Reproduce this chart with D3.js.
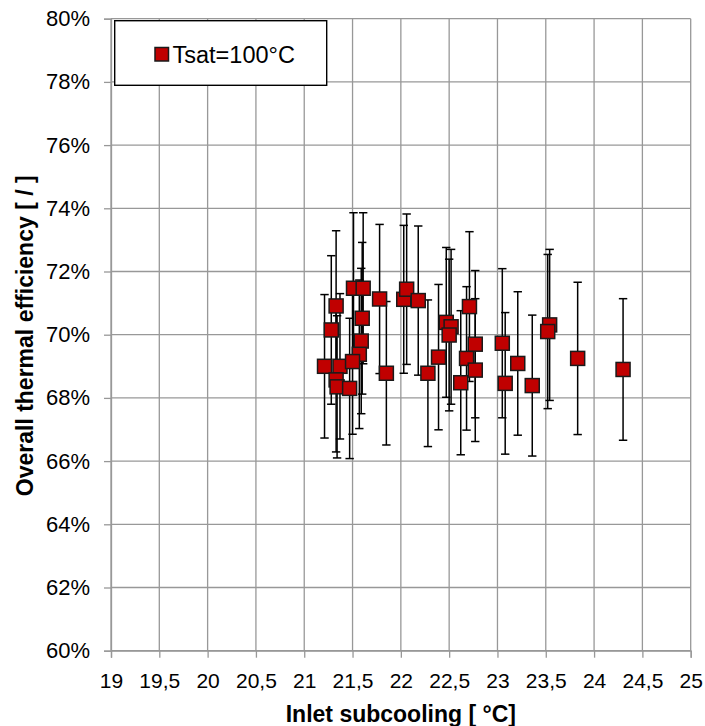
<!DOCTYPE html>
<html>
<head>
<meta charset="utf-8">
<script src="https://cdn.jsdelivr.net/npm/d3@7/dist/d3.min.js"></script>
<style>
  html, body { margin: 0; padding: 0; background: #fff; }
  svg { display: block; font-family: "Liberation Sans", Arial, sans-serif; }
</style>
</head>
<body>
<svg id="chart" width="705" height="726"></svg>
<script>
// Inlet subcooling [°C] for each test point
const subcooling = [
  21.21, 21.28, 21.33, 21.37, 21.33, 21.34, 21.47, 21.51, 21.61, 21.60,
  21.59, 21.57, 21.50, 21.78, 21.85, 22.03, 22.06, 22.18, 22.28, 22.39,
  22.47, 22.52, 22.50, 22.71, 22.62, 22.68, 22.77, 22.77, 23.05, 23.08,
  23.21, 23.36, 23.54, 23.52, 23.83, 24.30
];
// Overall thermal efficiency [%]
const efficiency = [
  69.00, 70.15, 70.91, 69.00, 68.57, 68.35, 68.30, 71.47, 71.47, 70.52,
  69.80, 69.38, 69.15, 71.13, 68.78, 71.12, 71.44, 71.08, 68.78, 69.29,
  70.39, 70.25, 69.99, 70.89, 68.48, 69.25, 69.70, 68.88, 69.73, 68.46,
  69.09, 68.39, 70.31, 70.10, 69.25, 68.90
];
// Measurement uncertainty (± percentage points)
const uncertainty = [
  2.27, 2.35, 2.38, 2.30, 2.28, 2.25, 2.22, 2.39, 2.39, 2.40,
  2.30, 2.35, 2.30, 2.36, 2.27, 2.34, 2.38, 2.36, 2.32, 2.30,
  2.37, 2.45, 2.40, 2.37, 2.28, 2.27, 2.33, 2.26, 2.36, 2.24,
  2.27, 2.23, 2.39, 2.44, 2.41, 2.24
];
const xTicks = [19, 19.5, 20, 20.5, 21, 21.5, 22, 22.5, 23, 23.5, 24, 24.5, 25];
const yTicks = [60, 62, 64, 66, 68, 70, 72, 74, 76, 78, 80];
const seriesName = "Tsat=100°C";
const xTitle = "Inlet subcooling [ °C]";
const yTitle = "Overall thermal efficiency [ / ]";

const points = subcooling.map((x, i) => ({ x, y: efficiency[i], e: uncertainty[i] }));

const svg = d3.select("#chart");
const plotLeft = 111, plotRight = 690.7, plotTop = 18.7, plotBottom = 650.7;

const x = d3.scaleLinear().domain([19, 25]).range([plotLeft, plotRight]);
const y = d3.scaleLinear().domain([60, 80]).range([plotBottom, plotTop]);

const gridColor = "#989898";

// Grid
const grid = svg.append("g");
grid.selectAll("line.v").data(xTicks).join("line")
  .attr("class", "v")
  .attr("x1", d => x(d)).attr("x2", d => x(d))
  .attr("y1", plotTop).attr("y2", plotBottom)
  .attr("stroke", gridColor).attr("stroke-width", 1.3);
grid.selectAll("line.h").data(yTicks).join("line")
  .attr("class", "h")
  .attr("x1", plotLeft).attr("x2", plotRight)
  .attr("y1", d => y(d)).attr("y2", d => y(d))
  .attr("stroke", gridColor).attr("stroke-width", 1.3);

// Axes
const xAxis = svg.append("g")
  .attr("transform", `translate(0,${plotBottom})`)
  .call(d3.axisBottom(x).tickValues(xTicks).tickSize(7).tickPadding(15)
    .tickFormat(d => String(d).replace(".", ",")));
const yAxis = svg.append("g")
  .attr("transform", `translate(${plotLeft},0)`)
  .call(d3.axisLeft(y).tickValues(yTicks).tickSize(7).tickPadding(14)
    .tickFormat(d => d + "%"));

[xAxis, yAxis].forEach(g => {
  g.select(".domain").attr("stroke", gridColor).attr("stroke-width", 1.3);
  g.selectAll(".tick line").attr("stroke", gridColor).attr("stroke-width", 1.3);
  g.selectAll(".tick text")
    .attr("fill", "#000")
    .style("font-family", '"Liberation Sans", Arial, sans-serif');
});
xAxis.selectAll(".tick text").style("font-size", "21px");
yAxis.selectAll(".tick text").style("font-size", "22px");

// Axis titles
svg.append("text")
  .attr("x", (plotLeft + plotRight) / 2)
  .attr("y", 721.5)
  .attr("text-anchor", "middle")
  .style("font-size", "23px").style("font-weight", "bold")
  .text(xTitle);
svg.append("text")
  .attr("transform", `translate(33,${335.8}) rotate(-90)`)
  .attr("text-anchor", "middle")
  .style("font-size", "23px").style("font-weight", "bold")
  .text(yTitle);

// Error bars
const capHalf = 4.2;
const eb = svg.append("g").attr("stroke", "#000").attr("stroke-width", 1.5);
eb.selectAll("g").data(points).join("g").each(function (d) {
  const g = d3.select(this);
  const cx = x(d.x), y1 = y(d.y + d.e), y2 = y(d.y - d.e);
  g.append("line").attr("x1", cx).attr("x2", cx).attr("y1", y1).attr("y2", y2);
  g.append("line").attr("x1", cx - capHalf).attr("x2", cx + capHalf).attr("y1", y1).attr("y2", y1);
  g.append("line").attr("x1", cx - capHalf).attr("x2", cx + capHalf).attr("y1", y2).attr("y2", y2);
});

// Markers
const ms = 14;
svg.append("g").selectAll("rect").data(points).join("rect")
  .attr("x", d => x(d.x) - ms / 2)
  .attr("y", d => y(d.y) - ms / 2)
  .attr("width", ms).attr("height", ms)
  .attr("fill", "#C00000")
  .attr("stroke", "#1a1a1a").attr("stroke-width", 1.5);

// Legend
const legend = svg.append("g");
legend.append("rect")
  .attr("x", 114.7).attr("y", 20.7)
  .attr("width", 212).attr("height", 64.6)
  .attr("fill", "#fff").attr("stroke", "#000").attr("stroke-width", 1.4);
legend.append("rect")
  .attr("x", 155).attr("y", 47.5)
  .attr("width", 13.5).attr("height", 13.5)
  .attr("fill", "#C00000").attr("stroke", "#1a1a1a").attr("stroke-width", 1.5);
legend.append("text")
  .attr("x", 172.5).attr("y", 62.5)
  .style("font-size", "23.5px")
  .text(seriesName);
</script>
</body>
</html>
